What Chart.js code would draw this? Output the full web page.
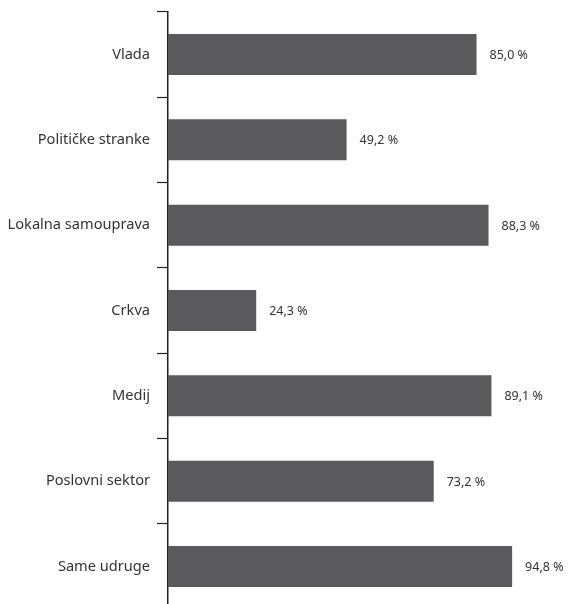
<!DOCTYPE html>
<html>
<head>
<meta charset="utf-8">
<script src="https://cdn.jsdelivr.net/npm/chart.js@4"></script>
<style>
  html, body { margin: 0; padding: 0; background: #fff; overflow: hidden; }
  #wrap { width: 572px; height: 629px; margin-top: -4px; }
</style>
</head>
<body>
<div id="wrap"><canvas id="chart"></canvas></div>
<script>
const categories = ['Vlada', 'Političke stranke', 'Lokalna samouprava', 'Crkva', 'Medij', 'Poslovni sektor', 'Same udruge'];
const values = [85.0, 49.2, 88.3, 24.3, 89.1, 73.2, 94.8];

const fmt = v => v.toFixed(1).replace('.', ',') + ' %';

// value labels right of each bar
const valueLabels = {
  id: 'valueLabels',
  afterDatasetsDraw(chart) {
    const ctx = chart.ctx;
    const meta = chart.getDatasetMeta(0);
    ctx.save();
    ctx.font = '12.5px "Noto Sans"';
    ctx.fillStyle = '#333';
    ctx.textBaseline = 'middle';
    meta.data.forEach((bar, i) => {
      ctx.fillText(fmt(values[i]), bar.x + 13, bar.y + 1);
    });
    ctx.restore();
  }
};

new Chart(document.getElementById('chart'), {
  type: 'bar',
  data: {
    labels: categories,
    datasets: [{
      data: values,
      backgroundColor: '#5a5a5c',
      barPercentage: 0.6,
      categoryPercentage: 0.8
    }]
  },
  options: {
    indexAxis: 'y',
    responsive: true,
    maintainAspectRatio: false,
    animation: false,
    layout: { padding: { top: 3, right: 41, bottom: 5, left: 0 } },
    plugins: { legend: { display: false }, tooltip: { enabled: false } },
    scales: {
      x: { display: false, min: 0, max: 100 },
      y: {
        grid: {
          offset: true,
          drawOnChartArea: false,
          tickLength: 11,
          tickColor: '#222',
          tickWidth: 1.2
        },
        border: { color: '#222', width: 1.5 },
        ticks: {
          color: '#333',
          font: { family: 'Noto Sans', size: 14.6 },
          padding: 7
        },
        afterFit(scale) { scale.width = 168; }
      }
    }
  },
  plugins: [valueLabels]
});
</script>
</body>
</html>
